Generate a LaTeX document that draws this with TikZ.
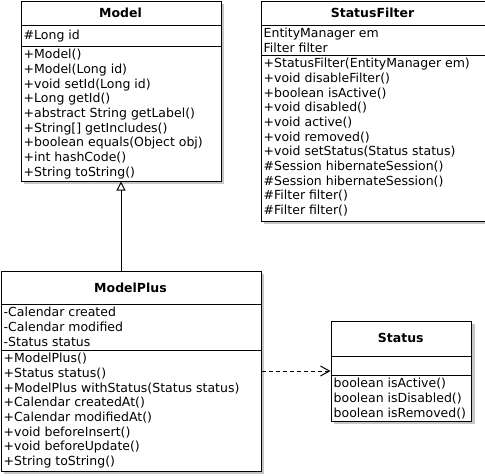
\documentclass[tikz,border=0pt]{standalone}
\usepackage{fontspec}
\setmainfont{DejaVu Sans}
\usetikzlibrary{arrows.meta}
\usetikzlibrary{shadows}

\tikzset{
    classbox/.style={draw, line width=1pt, fill=white, anchor=north west, inner sep=0pt,
        drop shadow={shadow xshift=3pt, shadow yshift=-3pt, opacity=1, fill=gray!45}},
    classname/.style={inner sep=0pt, font=\fontsize{12.5}{14.7}\selectfont\bfseries},
    members/.style={anchor=north west, align=left, inner sep=0pt, font=\fontsize{12.5}{14.7}\selectfont},
    divider/.style={line width=1pt},
}

\begin{document}
\begin{tikzpicture}[x=1pt, y=-1pt]
    \useasboundingbox (0,0) rectangle (485,475);

    % class boxes
    \node[classbox, minimum width=200pt, minimum height=180pt] (model) at (20.5,0.5) {};
    \node[classbox, minimum width=224pt, minimum height=220pt] (statusfilter) at (260.5,0.5) {};
    \node[classbox, minimum width=260pt, minimum height=200pt] (modelplus) at (0.5,270.5) {};
    \node[classbox, minimum width=140.5pt, minimum height=100pt] (status) at (330.5,320.5) {};

    % compartments
    \draw[divider] (model.west |- 0,25) -- (model.east |- 0,25);
    \draw[divider] (model.west |- 0,46) -- (model.east |- 0,46);
    \draw[divider] (statusfilter.west |- 0,25) -- (statusfilter.east |- 0,25);
    \draw[divider] (statusfilter.west |- 0,55) -- (statusfilter.east |- 0,55);
    \draw[divider] (modelplus.west |- 0,304) -- (modelplus.east |- 0,304);
    \draw[divider] (modelplus.west |- 0,350) -- (modelplus.east |- 0,350);
    \draw[divider] (status.west |- 0,356) -- (status.east |- 0,356);
    \draw[divider] (status.west |- 0,375) -- (status.east |- 0,375);

    % names
    \node[classname] (modelname) at (120.5,12.5) {Model};
    \node[classname] (statusfiltername) at (372.5,12.5) {StatusFilter};
    \node[classname] (modelplusname) at (130.5,287.5) {ModelPlus};
    \node[classname] (statusname) at (400.75,338) {Status};

    % Model
    \node[members] (modelattrs) at (23.5,29.5) {\strut\#Long id};
    \node[members] (modelops) at (23.5,48.2) {\strut+Model()\\+Model(Long id)\\+void setId(Long id)\\
        +Long getId()\\+abstract String getLabel()\\+String[] getIncludes()\\
        +boolean equals(Object obj)\\+int hashCode()\\+String toString()};

    % StatusFilter
    \node[members] (statusfilterattrs) at (263.5,27.2) {\strut EntityManager em\\Filter filter};
    \node[members] (statusfilterops) at (263.5,57.2) {\strut+StatusFilter(EntityManager em)\\
        +void disableFilter()\\+boolean isActive()\\+void disabled()\\+void active()\\
        +void removed()\\+void setStatus(Status status)\\\#Session hibernateSession()\\
        \#Session hibernateSession()\\\#Filter filter()\\\#Filter filter()};

    % ModelPlus
    \node[members] (modelplusattrs) at (3.5,306.2) {\strut-Calendar created\\-Calendar modified\\-Status status};
    \node[members] (modelplusops) at (3.5,352.2) {\strut+ModelPlus()\\+Status status()\\
        +ModelPlus withStatus(Status status)\\+Calendar createdAt()\\+Calendar modifiedAt()\\
        +void beforeInsert()\\+void beforeUpdate()\\+String toString()};

    % Status
    \node[members] (statusops) at (333.5,377.2) {\strut boolean isActive()\\boolean isDisabled()\\boolean isRemoved()};

    % relations
    \draw[line width=1pt, -{Triangle[open, length=9pt, width=9pt]}] (modelplus.north -| model.south) -- (model.south);
    \draw[line width=1pt, dash pattern=on 4pt off 3pt, -{Straight Barb[length=9pt, width=10pt]}] (modelplus.east |- status.west) -- (status.west);
\end{tikzpicture}
\end{document}
